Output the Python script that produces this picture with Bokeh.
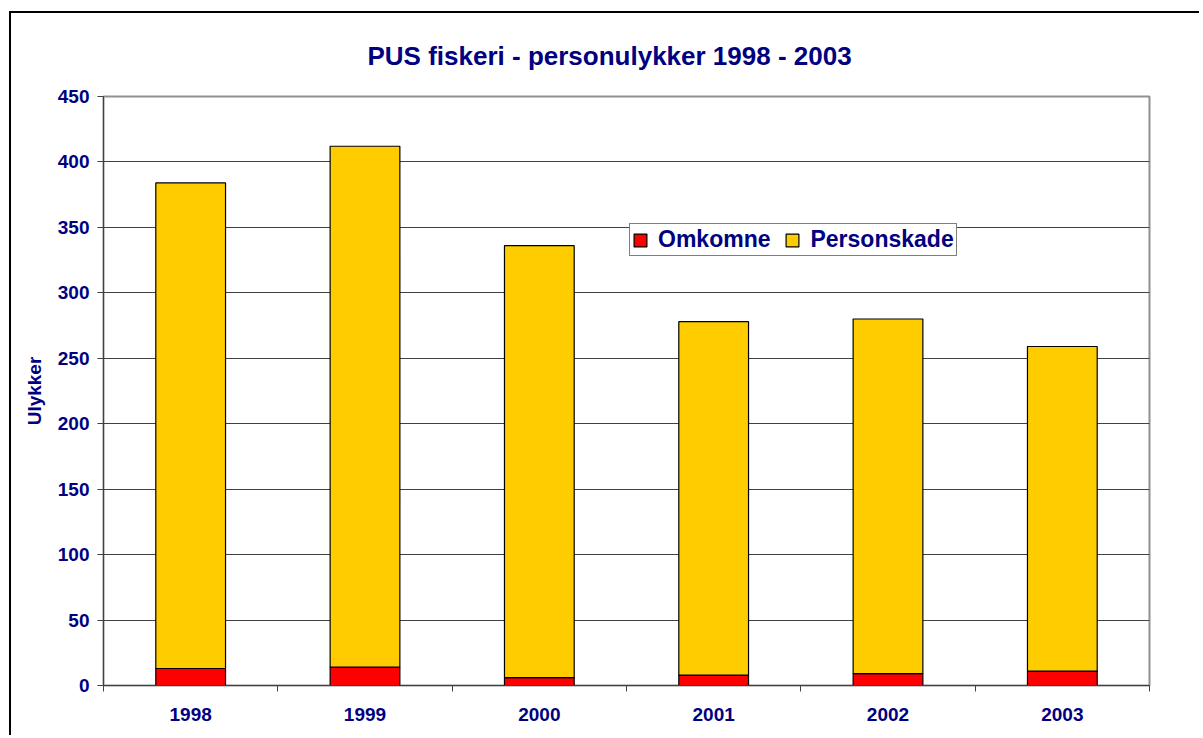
from bokeh.plotting import figure
from bokeh.models import ColumnDataSource, FixedTicker, Legend, LegendItem, Range1d
from bokeh.embed import file_html
from bokeh.resources import INLINE

years = ["1998", "1999", "2000", "2001", "2002", "2003"]
omkomne = [13, 14, 6, 8, 9, 11]
personskade = [371, 398, 330, 270, 271, 248]
y_ticks = [0, 50, 100, 150, 200, 250, 300, 350, 400, 450]
title_text = "PUS fiskeri - personulykker 1998 - 2003"

NAVY = "#000080"
FONT = "Liberation Sans"

x = [i + 0.5 for i in range(len(years))]
src = ColumnDataSource(dict(x=x, omkomne=omkomne, personskade=personskade))

p = figure(width=1190, height=724, output_backend="svg", toolbar_location=None,
           x_range=Range1d(0, len(years)), y_range=Range1d(0, 450),
           min_border_left=92, min_border_top=83, min_border_right=52, min_border_bottom=52)
p.styles = {"border-left": "2px solid black", "border-top": "2px solid black",
            "margin-left": "9px", "margin-top": "11px"}

renderers = p.vbar_stack(["omkomne", "personskade"], x="x", width=0.4, source=src,
                         fill_color=["#FF0000", "#FFCC00"], line_color="black", line_width=1.2)

# title
p.title.text = title_text
p.title.text_font = FONT
p.title.text_font_size = "26px"
p.title.text_font_style = "bold"
p.title.text_color = NAVY
p.title.align = "left"
p.title.offset = 264
p.title.vertical_align = "top"
p.title.standoff = 48

p.outline_line_color = "#909090"
p.outline_line_width = 2
p.background_fill_color = "white"
p.border_fill_color = "white"

# y axis
ya = p.yaxis[0]
ya.ticker = FixedTicker(ticks=y_ticks)
ya.axis_label = "Ulykker"
ya.axis_label_text_font = FONT
ya.axis_label_text_font_size = "19px"
ya.axis_label_text_font_style = "bold"
ya.axis_label_text_color = NAVY
ya.axis_label_standoff = 10
ya.major_label_text_font = FONT
ya.major_label_text_font_size = "19px"
ya.major_label_text_font_style = "bold"
ya.major_label_text_color = NAVY
ya.major_label_standoff = 8
ya.major_tick_out = 6
ya.major_tick_in = 0
ya.minor_tick_out = 0
ya.minor_tick_in = 0
ya.axis_line_color = "#404040"
ya.major_tick_line_color = "#404040"

# x axis
xa = p.xaxis[0]
xa.ticker = FixedTicker(ticks=x, minor_ticks=list(range(len(years) + 1)))
xa.major_label_overrides = {xi: y for xi, y in zip(x, years)}
xa.major_label_text_font = FONT
xa.major_label_text_font_size = "19px"
xa.major_label_text_font_style = "bold"
xa.major_label_text_color = NAVY
xa.major_label_standoff = 16
xa.major_tick_out = 0
xa.major_tick_in = 0
xa.minor_tick_out = 6
xa.minor_tick_in = 0
xa.minor_tick_line_color = "#404040"
xa.axis_line_color = "#404040"

# grid
p.xgrid.visible = False
p.ygrid.ticker = FixedTicker(ticks=[t for t in y_ticks if 0 < t < 450])
p.ygrid.grid_line_color = "#404040"
p.ygrid.grid_line_width = 1

legend = Legend(items=[LegendItem(label="Omkomne", renderers=[renderers[0]]),
                       LegendItem(label="Personskade", renderers=[renderers[1]])],
                orientation="horizontal", location=(526, 429))
legend.label_text_font = FONT
legend.label_text_font_size = "23px"
legend.label_text_font_style = "bold"
legend.label_text_color = NAVY
legend.glyph_width = 16
legend.glyph_height = 16
legend.label_standoff = 10
legend.spacing = 14
legend.padding = 2
legend.margin = 0
legend.border_line_color = "black"
legend.border_line_width = 1
legend.background_fill_alpha = 1
p.add_layout(legend, "center")

open("out.html", "w").write(file_html(p, INLINE))
